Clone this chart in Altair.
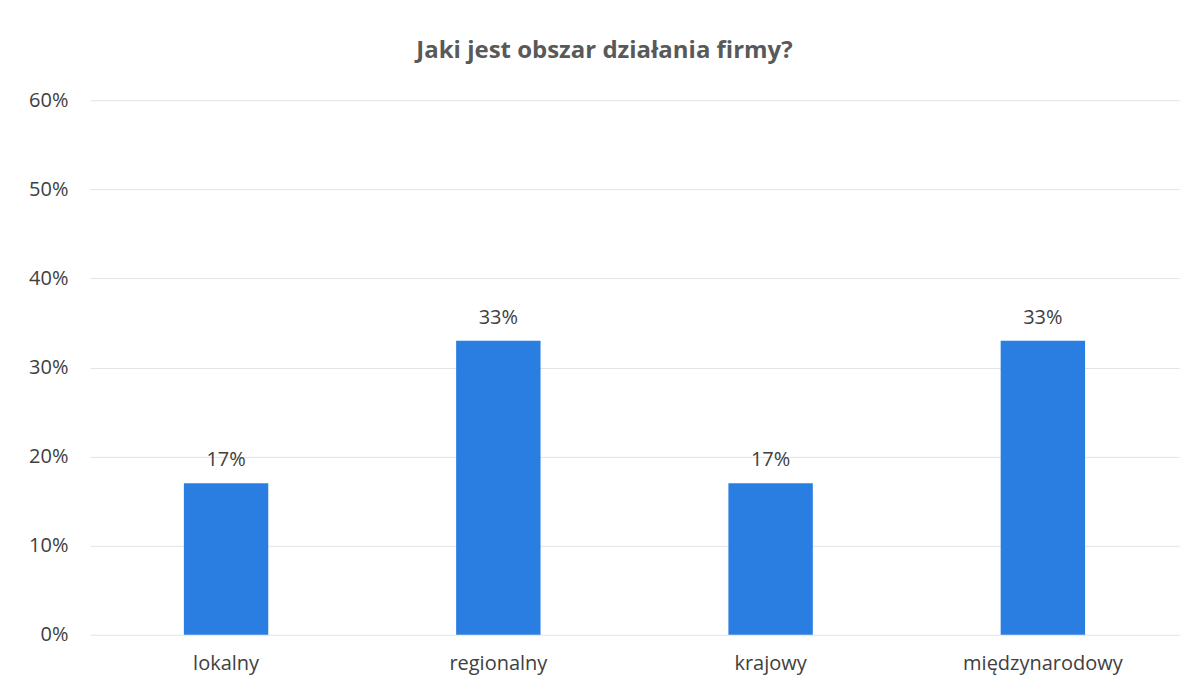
import altair as alt
import pandas as pd

categories = ["lokalny", "regionalny", "krajowy", "międzynarodowy"]
values = [0.17, 0.33, 0.17, 0.33]
labels = ["17%", "33%", "17%", "33%"]

df = pd.DataFrame({"kategoria": categories, "wartosc": values, "etykieta": labels})

FONT = "Open Sans"

x = alt.X("kategoria:N", sort=categories, title=None,
          scale=alt.Scale(paddingInner=0.69, paddingOuter=0.345),
          axis=alt.Axis(labelAngle=0, labelFontSize=20, labelColor="#404040",
                        labelFont=FONT, labelPadding=19, ticks=False, domain=False))
y = alt.Y("wartosc:Q", title=None,
          scale=alt.Scale(domain=[0, 0.6]),
          axis=alt.Axis(format=".0%", values=[0, 0.1, 0.2, 0.3, 0.4, 0.5, 0.6],
                        labelFontSize=20, labelColor="#404040", labelFont=FONT,
                        labelPadding=22, ticks=False, domain=False,
                        gridColor="#E3E3E3", gridWidth=1))

bars = alt.Chart(df).mark_bar(color="#2A7DE1").encode(x=x, y=y)
text = alt.Chart(df).mark_text(dy=-13, baseline="bottom", fontSize=20,
                               color="#404040", font=FONT).encode(
    x=alt.X("kategoria:N", sort=categories),
    y="wartosc:Q", text="etykieta:N")

chart = (bars + text).properties(
    width=1090, height=535,
    autosize=alt.AutoSizeParams(type="none"),
    padding={"left": 82, "top": 92, "right": 10, "bottom": 50},
    title=alt.TitleParams("Jaki jest obszar działania firmy?", fontSize=24,
                          font=FONT, fontWeight="bold", color="#595959",
                          anchor="middle", offset=27, dx=-30),
).configure_view(stroke=None)

chart.save("out.html", embed_options={"renderer": "svg", "actions": False})
